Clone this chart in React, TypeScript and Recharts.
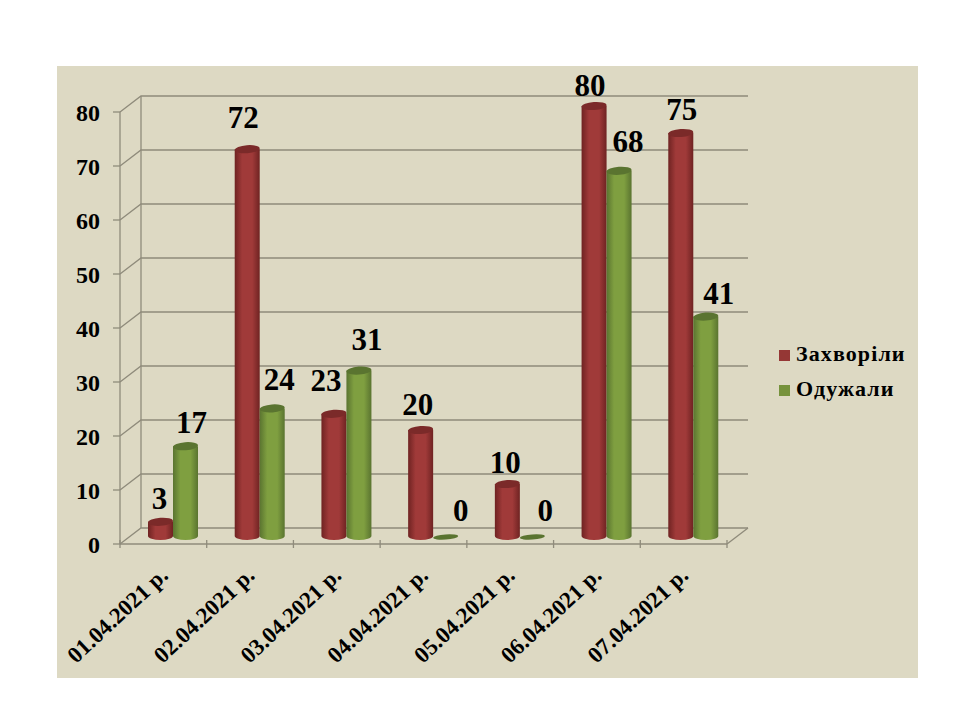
import { BarChart, Bar, XAxis, YAxis, CartesianGrid, Legend, LabelList, usePlotArea } from 'recharts';

const dates = ['01.04.2021 р.', '02.04.2021 р.', '03.04.2021 р.', '04.04.2021 р.', '05.04.2021 р.', '06.04.2021 р.', '07.04.2021 р.'];
const sick = [3, 72, 23, 20, 10, 80, 75];
const recovered = [17, 24, 31, 0, 0, 68, 41];
const yTicks = [0, 10, 20, 30, 40, 50, 60, 70, 80];

const rows = dates.map((date, i) => ({ date, sick: sick[i], recovered: recovered[i] }));

const SERIF = '"Liberation Serif", "Times New Roman", serif';
const GRID = '#8f8b7b';
const DEPTH_X = 21;
const DEPTH_Y = 16;
const BAR_DX = 10;
const BAR_DY = -6;

// the value labels were moved by hand in the original, so each one has its own nudge
const sickNudgeX = [-1, -4, -8, -3, -2, -4, 1];
const sickNudgeY = [0, -8, -10, -2, 2, 3, 0];
const recoveredNudgeX = [6, 7, 8, 15, 13, 9, 13];
const recoveredNudgeY = [0, -5, -8, -4, -4, -6, 0];

function DepthLine(props: any) {
  const { x1, x2, y1 } = props;
  return (
    <polyline
      points={`${x1},${y1} ${x1 + DEPTH_X},${y1 - DEPTH_Y} ${x2 + DEPTH_X},${y1 - DEPTH_Y}`}
      fill="none"
      stroke={GRID}
      strokeWidth={1.3}
    />
  );
}

function DepthFrame() {
  const plot = usePlotArea();
  if (!plot) return null;
  const { x, y, width, height } = plot;
  const right = x + width;
  const bottom = y + height;
  return (
    <g stroke={GRID} strokeWidth={1.3} fill="none">
      <line x1={x + DEPTH_X} y1={y - DEPTH_Y} x2={x + DEPTH_X} y2={bottom - DEPTH_Y} />
      <line x1={right} y1={bottom} x2={right + DEPTH_X} y2={bottom - DEPTH_Y} />
    </g>
  );
}

function Cylinder(props: any) {
  const { x, y, width, height, gradient, cap } = props;
  const left = x + BAR_DX;
  const flat = height <= 0;
  const top = y + BAR_DY - (flat ? 1 : 0);
  const rx = width / 2;
  const cx = left + rx;
  const base = top + height - 2;
  return (
    <g>
      {!flat && (
        <path
          d={`M${left},${top} L${left},${base} A${rx},4 0 0 0 ${left + width},${base} L${left + width},${top} Z`}
          fill={`url(#${gradient})`}
        />
      )}
      <ellipse cx={cx} cy={top} rx={rx} ry={flat ? 2.5 : 4} fill={cap} transform={`rotate(-4 ${cx} ${top})`} />
    </g>
  );
}

function BarValue(props: any) {
  const { x, y, width, value, index, nudgeX, nudgeY } = props;
  return (
    <text
      x={x + width / 2 + BAR_DX + nudgeX[index]}
      y={y + BAR_DY - 13 + nudgeY[index]}
      textAnchor="middle"
      fontFamily={SERIF}
      fontWeight="bold"
      fontSize={31}
      fill="#000"
    >
      {value}
    </text>
  );
}

function DateTick(props: any) {
  const { x, y, payload, index } = props;
  const half = 607 / dates.length / 2;
  const axisY = y - 12;
  return (
    <g>
      <line x1={x - half} y1={axisY} x2={x - half} y2={axisY + 8} stroke={GRID} strokeWidth={1.3} />
      {index === dates.length - 1 && (
        <line x1={x + half} y1={axisY} x2={x + half} y2={axisY + 8} stroke={GRID} strokeWidth={1.3} />
      )}
      <text
        x={x + 6}
        y={axisY + 37}
        textAnchor="end"
        transform={`rotate(-43 ${x + 6} ${axisY + 37})`}
        fontFamily={SERIF}
        fontWeight="bold"
        fontSize={23}
        fill="#000"
      >
        {payload.value}
      </text>
    </g>
  );
}

export default function App() {
  return (
    <div style={{ position: 'absolute', left: 0, top: 0, width: 960, height: 720, background: '#fff' }}>
      <div style={{ position: 'absolute', left: 57, top: 66, width: 861, height: 612, background: '#ddd9c3' }} />
      <div style={{ position: 'absolute', left: 0, top: 0 }}>
        <BarChart
          width={960}
          height={720}
          data={rows}
          barSize={25}
          barGap={0}
          margin={{ top: 112, right: 93, bottom: 0, left: 0 }}
        >
          <defs>
            <linearGradient id="redBody" x1="0" y1="0" x2="1" y2="0">
              <stop offset="0" stopColor="#6f2322" />
              <stop offset="0.3" stopColor="#a03a39" />
              <stop offset="0.7" stopColor="#a03a39" />
              <stop offset="1" stopColor="#6f2322" />
            </linearGradient>
            <linearGradient id="greenBody" x1="0" y1="0" x2="1" y2="0">
              <stop offset="0" stopColor="#5a7430" />
              <stop offset="0.3" stopColor="#7f9f40" />
              <stop offset="0.7" stopColor="#7f9f40" />
              <stop offset="1" stopColor="#5a7430" />
            </linearGradient>
          </defs>
          <CartesianGrid horizontal={(p: any) => <DepthLine key={p.y1} {...p} />} vertical={false} />
          <DepthFrame />
          <XAxis
            dataKey="date"
            height={176}
            interval={0}
            axisLine={{ stroke: GRID, strokeWidth: 1.3 }}
            tickLine={false}
            tick={(p: any) => <DateTick {...p} />}
          />
          <YAxis
            type="number"
            domain={[0, 80]}
            ticks={yTicks}
            width={120}
            tickSize={7}
            tickMargin={13}
            axisLine={{ stroke: GRID, strokeWidth: 1.3 }}
            tickLine={{ stroke: GRID, strokeWidth: 1.3 }}
            tick={{ fontFamily: SERIF, fontWeight: 'bold', fontSize: 24, fill: '#000' }}
          />
          <Legend
            layout="vertical"
            align="right"
            verticalAlign="top"
            iconType="square"
            iconSize={11}
            wrapperStyle={{ left: 779, top: 336, width: 140, margin: 0, padding: 0, fontFamily: SERIF, fontWeight: 'bold', fontSize: 22, lineHeight: '35px', letterSpacing: 1.1 }}
            formatter={(name: string) => <span style={{ color: '#000', marginLeft: 2 }}>{name}</span>}
          />
          <Bar
            dataKey="sick"
            name="Захворіли"
            fill="#953735"
            isAnimationActive={false}
            shape={(p: any) => <Cylinder {...p} gradient="redBody" cap="#7b2a29" />}
          >
            <LabelList dataKey="sick" content={(p: any) => <BarValue {...p} nudgeX={sickNudgeX} nudgeY={sickNudgeY} />} />
          </Bar>
          <Bar
            dataKey="recovered"
            name="Одужали"
            fill="#76923c"
            isAnimationActive={false}
            shape={(p: any) => <Cylinder {...p} gradient="greenBody" cap="#5a7430" />}
          >
            <LabelList dataKey="recovered" content={(p: any) => <BarValue {...p} nudgeX={recoveredNudgeX} nudgeY={recoveredNudgeY} />} />
          </Bar>
        </BarChart>
      </div>
    </div>
  );
}
